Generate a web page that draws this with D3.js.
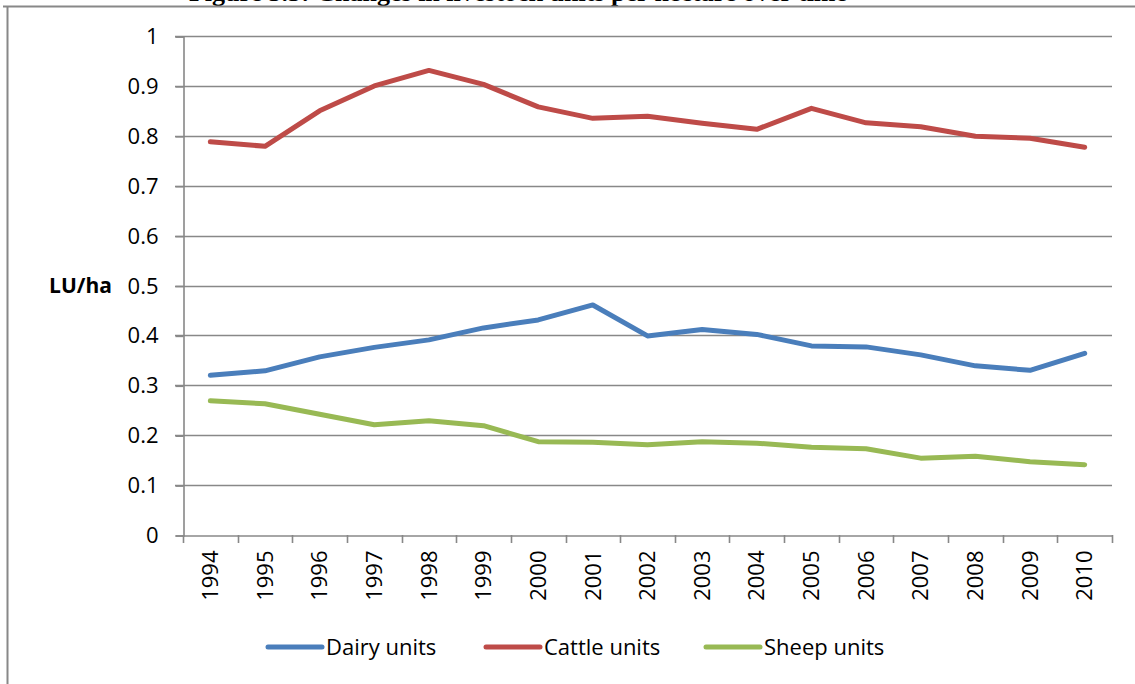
<!DOCTYPE html>
<html>
<head>
<meta charset="utf-8">
<script src="https://cdn.jsdelivr.net/npm/d3@7/dist/d3.min.js"></script>
<style>
  html, body { margin: 0; padding: 0; background: #fff; }
  svg { display: block; }
</style>
</head>
<body>
<div id="chart"></div>
<script>
/* --- dados ------------------------------------------------------------- */
var years  = ['1994','1995','1996','1997','1998','1999','2000','2001','2002',
              '2003','2004','2005','2006','2007','2008','2009','2010'];
var dairy  = [0.320, 0.329, 0.357, 0.376, 0.391, 0.415, 0.431, 0.461, 0.399,
              0.412, 0.402, 0.379, 0.377, 0.361, 0.339, 0.330, 0.364];
var cattle = [0.788, 0.779, 0.850, 0.900, 0.931, 0.903, 0.858, 0.835, 0.839,
              0.825, 0.813, 0.855, 0.826, 0.818, 0.799, 0.795, 0.777];
var sheep  = [0.269, 0.263, 0.242, 0.221, 0.229, 0.219, 0.187, 0.186, 0.181,
              0.187, 0.184, 0.176, 0.173, 0.154, 0.158, 0.147, 0.141];
var yTicks = [0, 0.1, 0.2, 0.3, 0.4, 0.5, 0.6, 0.7, 0.8, 0.9, 1];
var seriesNames = ['Dairy units', 'Cattle units', 'Sheep units'];

var W = 1135, H = 684;
var font = '"Open Sans", Carlito, Calibri, sans-serif';
var grid = '#888888';
var colors = ['#4A7EBB', '#BE4B48', '#98B954'];
var series = [dairy, cattle, sheep];

var svg = d3.select('#chart').append('svg').attr('width', W).attr('height', H);

/* titulo (cortado no topo, como no original) */
svg.append('text')
  .attr('x', 518).attr('y', 1)
  .attr('text-anchor', 'middle')
  .attr('font-family', '"Liberation Serif", "Times New Roman", serif')
  .attr('font-weight', 'bold').attr('font-size', 26)
  .text('Figure 3.5: Changes in livestock units per hectare over time');

/* moldura */
svg.append('line').attr('x1', 3).attr('x2', W).attr('y1', 6.5).attr('y2', 6.5)
  .attr('stroke', grid).attr('stroke-width', 2);
svg.append('line').attr('x1', 7.5).attr('x2', 7.5).attr('y1', 6).attr('y2', H)
  .attr('stroke', grid).attr('stroke-width', 2);

/* escalas */
var x = d3.scaleBand().domain(years).range([183, 1112]);
var y = d3.scaleLinear().domain([0, 1]).range([535, 36]);

/* grade horizontal */
svg.append('g').selectAll('line').data(yTicks.slice(1)).join('line')
  .attr('x1', 175).attr('x2', 1112)
  .attr('y1', function (d) { return Math.round(y(d)) + 0.5; })
  .attr('y2', function (d) { return Math.round(y(d)) + 0.5; })
  .attr('stroke', grid).attr('stroke-width', 1.6);

/* eixo y */
var yAxis = svg.append('g').attr('transform', 'translate(183.5,0.5)')
  .call(d3.axisLeft(y).tickValues(yTicks).tickSize(8).tickPadding(17)
    .tickFormat(function (d) { return String(+d.toFixed(1)); }));
yAxis.select('.domain').attr('stroke', grid).attr('stroke-width', 1.6);
yAxis.selectAll('.tick line').attr('stroke', grid).attr('stroke-width', 1.6);
yAxis.selectAll('text').attr('font-family', font).attr('font-size', 22).attr('fill', '#000');

/* eixo x */
var xAxis = svg.append('g').attr('transform', 'translate(0,535.5)')
  .call(d3.axisBottom(x).tickSize(0));
xAxis.select('.domain').attr('stroke', grid).attr('stroke-width', 1.6);
xAxis.selectAll('.tick line').remove();
xAxis.selectAll('text')
  .attr('font-family', font).attr('font-size', 22).attr('fill', '#000')
  .attr('transform', 'rotate(-90)')
  .attr('text-anchor', 'end')
  .attr('x', -15).attr('y', 0).attr('dy', '0.35em');
/* marcas entre categorias */
var edges = years.map(function (d) { return x(d); }).concat([x.range()[1]]);
svg.append('g').selectAll('line').data(edges).join('line')
  .attr('x1', function (d) { return Math.round(d) + 0.5; })
  .attr('x2', function (d) { return Math.round(d) + 0.5; })
  .attr('y1', 535).attr('y2', 543)
  .attr('stroke', grid).attr('stroke-width', 1.6);

/* rotulo do eixo */
svg.append('text').attr('x', 112).attr('y', 293)
  .attr('text-anchor', 'end')
  .attr('font-family', font).attr('font-weight', 'bold').attr('font-size', 21)
  .text('LU/ha');

/* linhas */
var line = d3.line()
  .x(function (d, i) { return x(years[i]) + x.bandwidth() / 2; })
  .y(function (d) { return y(d); });
svg.append('g').selectAll('path').data(series).join('path')
  .attr('d', line)
  .attr('fill', 'none')
  .attr('stroke', function (d, i) { return colors[i]; })
  .attr('stroke-width', 5)
  .attr('stroke-linejoin', 'round')
  .attr('stroke-linecap', 'round');

/* legenda */
var legX = [268, 486, 706];
var leg = svg.append('g').selectAll('g').data(seriesNames).join('g')
  .attr('transform', function (d, i) { return 'translate(' + legX[i] + ',647)'; });
leg.append('line').attr('x1', 0).attr('x2', 54)
  .attr('stroke', function (d, i) { return colors[i]; })
  .attr('stroke-width', 5).attr('stroke-linecap', 'round');
leg.append('text').attr('x', 58).attr('dy', '0.35em')
  .attr('font-family', font).attr('font-size', 22).attr('fill', '#000')
  .text(function (d) { return d; });
</script>
</body>
</html>
